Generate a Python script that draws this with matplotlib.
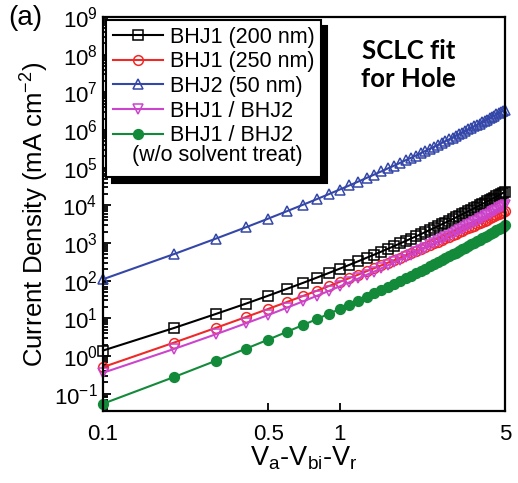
import matplotlib
matplotlib.use("Agg")
import matplotlib.pyplot as plt
from matplotlib.lines import Line2D
from matplotlib.ticker import (LogLocator, NullLocator, NullFormatter, FixedLocator,
                               FixedFormatter, LogFormatterSciNotation)

plt.rcParams['font.family'] = ['Liberation Sans', 'DejaVu Sans']
plt.rcParams['mathtext.fontset'] = 'custom'
plt.rcParams['mathtext.rm'] = 'Liberation Sans'
plt.rcParams['mathtext.it'] = 'Liberation Sans'

# applied voltage (V_a - V_bi - V_r), 0.1 ... 5.0 V
voltage = [0.1, 0.2, 0.3, 0.4, 0.5, 0.6, 0.7, 0.8, 0.9, 1.0,
           1.1, 1.2, 1.3, 1.4, 1.5, 1.6, 1.7, 1.8, 1.9, 2.0,
           2.1, 2.2, 2.3, 2.4, 2.5, 2.6, 2.7, 2.8, 2.9, 3.0,
           3.1, 3.2, 3.3, 3.4, 3.5, 3.6, 3.7, 3.8, 3.9, 4.0,
           4.1, 4.2, 4.3, 4.4, 4.5, 4.6, 4.7, 4.8, 4.9, 5.0]

# current density, mA cm^-2
j_bhj1_200 = [1.41, 5.62, 13.2, 24.5, 40.4, 61.4, 87.9, 121, 161, 209,
              265, 331, 408, 494, 594, 708, 834, 977, 1135, 1312,
              1503, 1714, 1959, 2213, 2500, 2805, 3141, 3499, 3890, 4325,
              4786, 5284, 5834, 6383, 7015, 7656, 8395, 9141, 9954, 10790,
              11720, 12680, 13710, 14830, 15960, 17260, 18540, 19950, 21430, 22960]

j_bhj1_250 = [0.513, 2.30, 5.64, 10.8, 18.0, 27.5, 39.5, 54.3, 72.3, 93.3,
              118, 146, 179, 215, 256, 303, 352, 409, 473, 541,
              614, 693, 785, 877, 982, 1089, 1208, 1337, 1469, 1618,
              1770, 1932, 2118, 2291, 2495, 2698, 2924, 3162, 3404, 3656,
              3936, 4207, 4508, 4831, 5164, 5521, 5888, 6266, 6653, 7063]

j_bhj2_50 = [110, 514, 1315, 2600, 4477, 7047, 10400, 14620, 19860, 26300,
             33900, 42950, 53580, 65770, 79800, 95700, 113500, 134000, 157400, 182400,
             210400, 242100, 277300, 314800, 357300, 402700, 451900, 507000, 564900, 629500,
             698200, 772700, 855100, 937600, 1.035e6, 1.130e6, 1.239e6, 1.355e6, 1.476e6, 1.607e6,
             1.750e6, 1.888e6, 2.046e6, 2.218e6, 2.393e6, 2.588e6, 2.786e6, 2.999e6, 3.214e6, 3.459e6]

j_bilayer = [0.363, 1.56, 3.82, 7.36, 12.4, 19.4, 28.4, 39.7, 53.7, 70.8,
             91.2, 115, 144, 176, 215, 258, 307, 363, 427, 497,
             574, 661, 760, 865, 984, 1112, 1253, 1409, 1578, 1766,
             1968, 2183, 2427, 2673, 2951, 3243, 3565, 3917, 4276, 4677,
             5105, 5546, 6039, 6561, 7096, 7709, 8318, 8974, 9705, 10450]

j_bilayer_nost = [0.0548, 0.281, 0.757, 1.56, 2.76, 4.45, 6.70, 9.59, 13.3, 17.8,
                  23.2, 29.7, 37.5, 46.6, 57.0, 69.0, 82.8, 98.4, 116, 136,
                  158, 183, 211, 241, 275, 311, 352, 396, 445, 498,
                  555, 617, 687, 757, 837, 920, 1012, 1112, 1216, 1327,
                  1449, 1574, 1714, 1858, 2014, 2188, 2355, 2541, 2748, 2958]

labels = ['BHJ1 (200 nm)', 'BHJ1 (250 nm)', 'BHJ2 (50 nm)', 'BHJ1 / BHJ2', 'BHJ1 / BHJ2']
x_ticks = [0.1, 0.5, 1, 5]
x_ticklabels = ['0.1', '0.5', '1', '5']
y_ticks = [1e-1, 1e0, 1e1, 1e2, 1e3, 1e4, 1e5, 1e6, 1e7, 1e8, 1e9]

fig = plt.figure(figsize=(5.18, 4.83), dpi=100)
ax = fig.add_axes([0.199, 0.149, 0.776, 0.816])

styles = [
    (j_bhj1_200, 'black', 's', 'none'),
    (j_bhj1_250, '#f02828', 'o', 'none'),
    (j_bhj2_50, '#3447a8', '^', 'none'),
    (j_bilayer, '#cc44cc', 'v', 'none'),
    (j_bilayer_nost, '#138a3a', 'o', '#138a3a'),
]
handles = []
for (ys, col, mk, fc), lab in zip(styles, labels):
    h, = ax.plot(voltage, ys, color=col, marker=mk, markerfacecolor=fc,
                 markeredgecolor=col, markersize=7, markeredgewidth=1.1,
                 linewidth=1.5, label=lab, clip_on=False)
    handles.append(h)

ax.set_xscale('log')
ax.set_yscale('log')
ax.set_xlim(0.1, 5)
ax.set_ylim(0.035, 1e9)

ax.xaxis.set_major_locator(FixedLocator(x_ticks))
ax.xaxis.set_major_formatter(FixedFormatter(x_ticklabels))
ax.xaxis.set_minor_locator(NullLocator())
ax.yaxis.set_major_locator(FixedLocator(y_ticks))
ax.yaxis.set_major_formatter(LogFormatterSciNotation())
ax.yaxis.set_minor_locator(LogLocator(base=10, subs=[2, 3, 4, 5, 6, 7, 8, 9], numticks=20))
ax.yaxis.set_minor_formatter(NullFormatter())
ax.tick_params(which='both', direction='in', labelsize=16, width=1.3)
ax.tick_params(which='major', length=6)
ax.tick_params(which='minor', length=3.5)
ax.tick_params(axis='x', pad=9)
ax.tick_params(axis='y', pad=4)
for sp in ax.spines.values():
    sp.set_linewidth(1.6)

ax.set_xlabel('V$_a$-V$_{bi}$-V$_r$', fontsize=19.5, labelpad=0)
ax.set_ylabel('Current Density (mA cm$^{-2}$)', fontsize=18.5, labelpad=2)

# spacer entry so the note fits inside the legend box
spacer = Line2D([], [], color='none')
leg = ax.legend(handles + [spacer], labels + [' '], loc='upper left',
                bbox_to_anchor=(0.0, 1.0), fontsize=15.5, frameon=True,
                fancybox=False, edgecolor='black', framealpha=1,
                borderaxespad=0.15, handlelength=2.35, handletextpad=0.3,
                labelspacing=0.17, borderpad=0.3,
                shadow={'color': 'black', 'alpha': 1, 'ox': 4, 'oy': -4})
leg.get_frame().set_linewidth(1.5)
leg.set_zorder(5)

ax.text(0.072, 0.648, '(w/o solvent treat)', transform=ax.transAxes,
        fontsize=15.5, va='center', ha='left', zorder=6)

ax.text(0.76, 0.878, 'SCLC fit\nfor Hole', transform=ax.transAxes,
        fontsize=18.5, fontweight='bold', family=['Lato', 'DejaVu Sans'],
        ha='center', va='center', linespacing=1.2)

fig.text(0.015, 0.962, '(a)', fontsize=20, ha='left', va='center')

fig.savefig('out.png', dpi=100)
